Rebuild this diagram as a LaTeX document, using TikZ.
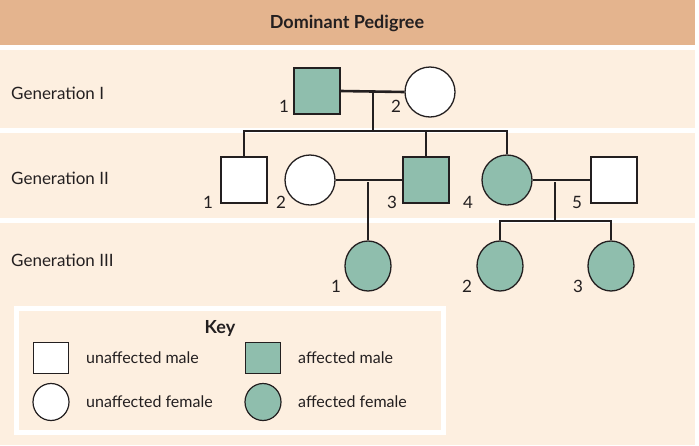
\documentclass[tikz,border=0pt]{standalone}
\usepackage{fontspec}
\setmainfont{Lato}
\usetikzlibrary{shapes.geometric}
\definecolor{hdr}{HTML}{E4B48E}
\definecolor{bg}{HTML}{FDEFE0}
\definecolor{aff}{HTML}{8FBEAD}
\definecolor{ink}{HTML}{231F20}
\begin{document}
\begin{tikzpicture}[x=1pt,y=-1pt,
  sq/.style={draw=ink,line width=1.3pt,minimum width=46pt,minimum height=46pt,inner sep=0pt,fill=white},
  ci/.style={draw=ink,line width=1.3pt,ellipse,minimum width=50pt,minimum height=50pt,inner sep=0pt,fill=white},
  ci3/.style={draw=ink,line width=1.3pt,ellipse,minimum width=46pt,minimum height=50pt,inner sep=0pt,fill=aff},
  ksq/.style={draw=ink,line width=1.2pt,minimum width=35pt,minimum height=31pt,inner sep=0pt,fill=white},
  kci/.style={draw=ink,line width=1.2pt,ellipse,minimum width=36pt,minimum height=37pt,inner sep=0pt,fill=white},
  af/.style={fill=aff},
  ln/.style={draw=ink,line width=2.6pt},
  num/.style={font=\fontsize{17}{17}\selectfont,text=ink,inner sep=0pt},
  gen/.style={font=\fontsize{17}{17}\selectfont,text=ink,anchor=west,inner sep=0pt},
  ktx/.style={font=\fontsize{16}{16}\selectfont,text=ink,anchor=west,inner sep=0pt}]
\useasboundingbox (0,0) rectangle (699,445);
\fill[white] (0,0) rectangle (699,445);
\fill[bg] (0,0) rectangle (695,445);
\fill[hdr] (0,0) rectangle (695,45);
\fill[white] (0,45) rectangle (695,50);
\fill[white] (0,128) rectangle (695,133);
\fill[white] (0,218) rectangle (695,223);
\node[font=\bfseries\fontsize{18}{18}\selectfont,text=ink] (title) at (347,23) {Dominant Pedigree};
\node[gen] (g1) at (11,93) {Generation I};
\node[gen] (g2) at (11,178) {Generation II};
\node[gen] (g3) at (11,260) {Generation III};
% lines
\coordinate (c1) at (373,92);
\coordinate (s1) at (373,131);
\coordinate (sl) at (244,131);
\coordinate (sr) at (507,131);
\coordinate (sm) at (426,131);
\coordinate (c2) at (368,182);
\coordinate (c3) at (555,182);
\coordinate (s3) at (555,221);
\coordinate (s3l) at (500,221);
\coordinate (s3r) at (611,221);
\node[sq,af] (i1) at (317,91) {};
\node[ci] (i2) at (430,92) {};
\node[sq] (ii1) at (244,180) {};
\node[ci] (ii2) at (310,180) {};
\node[sq,af] (ii3) at (426,180) {};
\node[ci,af] (ii4) at (507,180) {};
\node[sq] (ii5) at (614,180) {};
\node[ci3] (iii1) at (368,266) {};
\node[ci3] (iii2) at (500,266) {};
\node[ci3] (iii3) at (611,266) {};
\begin{scope}[on background layer/.style={}]
\draw[ln] (i1.east) -- (i2.west);
\draw[ln] (c1) -- (s1);
\draw[ln,line cap=rect] (sl) -- (sr);
\draw[ln] (sl) -- (ii1.north);
\draw[ln] (sm) -- (ii3.north);
\draw[ln] (sr) -- (ii4.north);
\draw[ln] (ii2.east) -- (ii3.west);
\draw[ln] (c2) -- (iii1.north);
\draw[ln] (ii4.east) -- (ii5.west);
\draw[ln] (c3) -- (s3);
\draw[ln,line cap=rect] (s3l) -- (s3r);
\draw[ln] (s3l) -- (iii2.north);
\draw[ln] (s3r) -- (iii3.north);
\end{scope}
\node[num] (n1) at (284,106) {1};
\node[num] (n2) at (396,106) {2};
\node[num] (n3) at (208,202) {1};
\node[num] (n4) at (281,202) {2};
\node[num] (n5) at (392,202) {3};
\node[num] (n6) at (468,202) {4};
\node[num] (n7) at (577,202) {5};
\node[num] (n8) at (336,286) {1};
\node[num] (n9) at (467,286) {2};
\node[num] (n10) at (578,286) {3};
% key
\draw[white,line width=5pt] (16,308) rectangle (443,432);
\node[font=\bfseries\fontsize{18}{18}\selectfont,text=ink] (key) at (220,328) {Key};
\node[ksq] (k1) at (51,358) {};
\node[ksq,af] (k2) at (263,358) {};
\node[kci] (k3) at (51,402) {};
\node[kci,af] (k4) at (263,402) {};
\node[ktx] (t1) at (86,358) {unaffected male};
\node[ktx] (t2) at (298,358) {affected male};
\node[ktx] (t3) at (86,402) {unaffected female};
\node[ktx] (t4) at (298,402) {affected female};
\end{tikzpicture}
\end{document}
